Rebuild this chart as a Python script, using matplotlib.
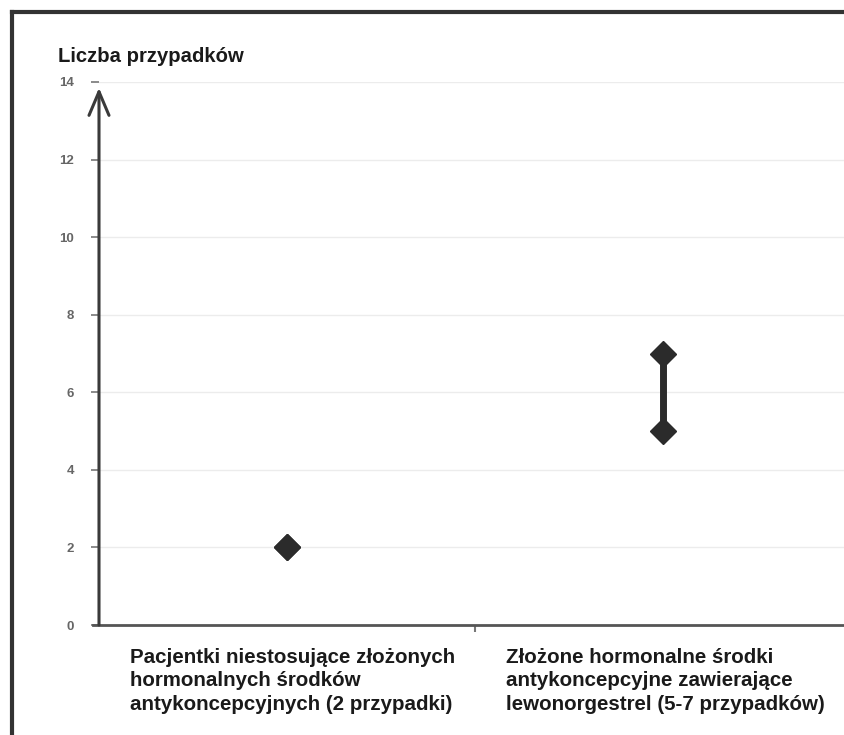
import matplotlib
matplotlib.use("Agg")
import matplotlib.pyplot as plt
from matplotlib.lines import Line2D
from matplotlib.transforms import blended_transform_factory

plt.rcParams["font.family"] = ["Liberation Sans", "DejaVu Sans"]

# data
categories = [
    "Pacjentki niestosujące złożonych\nhormonalnych środków\nantykoncepcyjnych (2 przypadki)",
    "Złożone hormonalne środki\nantykoncepcyjne zawierające\nlewonorgestrel (5-7 przypadków)",
]
low = [2, 5]
high = [2, 7]
y_ticks = [0, 2, 4, 6, 8, 10, 12, 14]
y_label = "Liczba przypadków"

MARK_C = "#2b2b2b"
AXIS_C = "#3a3a3a"
GRID_C = "#ececec"

fig = plt.figure(figsize=(8.45, 7.35), dpi=100)
ax = fig.add_axes([99 / 845, 1 - 625 / 735, 1 - 99 / 845, (625 - 82) / 735])

ax.set_xlim(-0.5, -0.5 + (845 - 99) / 376)
ax.set_ylim(0, 14)

for y in y_ticks[1:]:
    ax.axhline(y, color=GRID_C, lw=1.0, zorder=0)

for i, (lo, hi) in enumerate(zip(low, high)):
    ax.plot([i, i], [lo, hi], color=MARK_C, lw=5, solid_capstyle="butt",
            marker="D", markersize=13, zorder=3)

# axes styling
for side in ("top", "right", "left"):
    ax.spines[side].set_visible(False)
ax.spines["bottom"].set_color("#555555")
ax.spines["bottom"].set_linewidth(2)
ax.spines["bottom"].set_bounds(-0.515, ax.get_xlim()[1])

# y axis drawn as an arrow
ax.annotate("", xy=(-0.5, 13.85), xytext=(-0.5, 0),
            arrowprops=dict(arrowstyle="->, head_length=0.85, head_width=0.36",
                            lw=2.2, color=AXIS_C, mutation_scale=20, shrinkA=0, shrinkB=0),
            annotation_clip=False, zorder=4)

ax.set_yticks(y_ticks)
ax.set_yticklabels([str(v) for v in y_ticks], fontsize=9.5, fontweight="bold", color="#666666")
ax.tick_params(axis="y", length=6, width=1.2, color="#777777", pad=12)
ax.set_xticks([0.5])
ax.set_xticklabels([""])
ax.tick_params(axis="x", length=5, width=1.5, color="#777777")

trans = blended_transform_factory(ax.transData, fig.transFigure)
for i, name in enumerate(categories):
    ax.text(i - 0.417, 1 - 648 / 735, name, transform=trans, ha="left", va="top",
            fontsize=14.8, fontweight="bold", color="#1a1a1a", linespacing=1.3)

fig.text(58 / 845, 1 - 57 / 735, y_label, ha="left", va="center",
         fontsize=14.6, fontweight="bold", color="#1a1a1a")

# outer frame (left and top edges)
fig.add_artist(Line2D([12 / 845, 12 / 845], [0, 1 - 12 / 735], transform=fig.transFigure,
                      color="#333333", lw=3))
fig.add_artist(Line2D([12 / 845, 1], [1 - 12 / 735, 1 - 12 / 735], transform=fig.transFigure,
                      color="#333333", lw=3))

fig.savefig("out.png", dpi=100)
